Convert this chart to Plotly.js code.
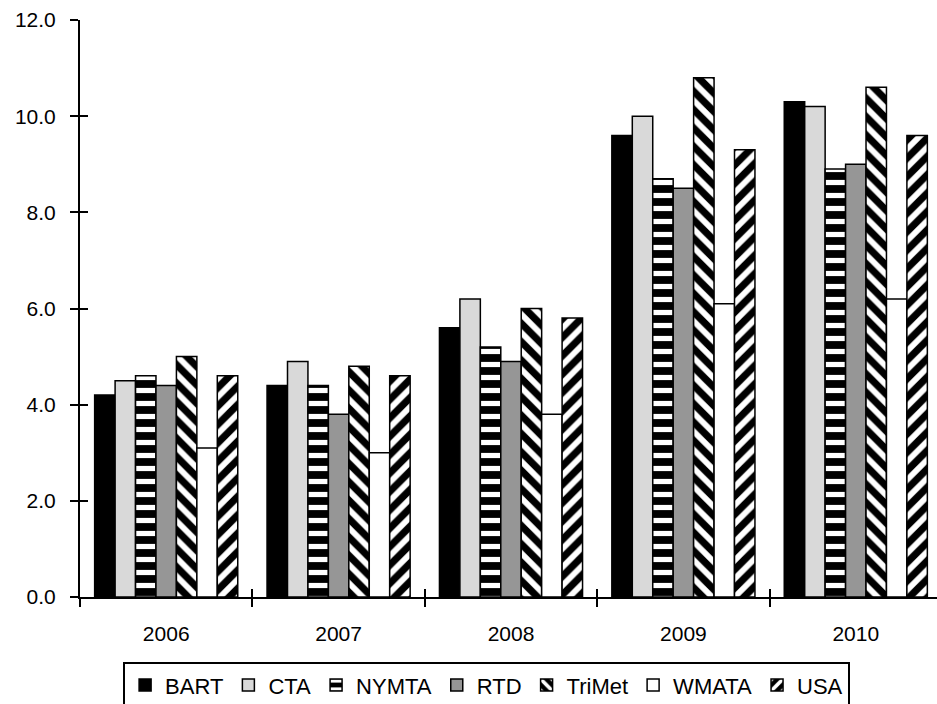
<!DOCTYPE html>
<html>
<head>
<meta charset="utf-8">
<script src="https://cdn.plot.ly/plotly-3.0.1.min.js"></script>
<style>
html, body { margin: 0; padding: 0; overflow: hidden; background: #fff; }
#chart { width: 942px; height: 712px; }
</style>
</head>
<body>
<div id="chart"></div>
<script>
const years = ['2006', '2007', '2008', '2009', '2010'];
const BART   = [4.2, 4.4, 5.6, 9.6, 10.3];
const CTA    = [4.5, 4.9, 6.2, 10.0, 10.2];
const NYMTA  = [4.6, 4.4, 5.2, 8.7, 8.9];
const RTD    = [4.4, 3.8, 4.9, 8.5, 9.0];
const TriMet = [5.0, 4.8, 6.0, 10.8, 10.6];
const WMATA  = [3.1, 3.0, 3.8, 6.1, 6.2];
const USA    = [4.6, 4.6, 5.8, 9.3, 9.6];

const font = '"Liberation Sans", Arial, sans-serif';

function bar(name, y, color, pattern) {
  const m = { color: color, line: { color: '#000', width: 1.5 } };
  if (pattern) m.pattern = pattern;
  return { type: 'bar', name: name, x: years, y: y, marker: m };
}

const traces = [
  bar('BART', BART, '#000000'),
  bar('CTA', CTA, '#d9d9d9'),
  bar('NYMTA', NYMTA, '#000000', { shape: '-', bgcolor: '#000', fgcolor: '#fff', size: 13, solidity: 0.4 }),
  bar('RTD', RTD, '#969696'),
  bar('TriMet', TriMet, '#000000', { shape: '\\', bgcolor: '#000', fgcolor: '#fff', size: 13, solidity: 0.45 }),
  bar('WMATA', WMATA, '#ffffff'),
  bar('USA', USA, '#000000', { shape: '/', bgcolor: '#000', fgcolor: '#fff', size: 13, solidity: 0.45 }),
  // invisible helper so the overlay axes (inner half of the crossing ticks) are drawn
  { type: 'bar', x: years, y: BART, xaxis: 'x2', yaxis: 'y2', showlegend: false,
    hoverinfo: 'skip', marker: { color: 'rgba(0,0,0,0)', line: { width: 0 } } }
];

const layout = {
  width: 942, height: 712,
  margin: { l: 80, r: 0, t: 20, b: 115 },
  paper_bgcolor: '#fff', plot_bgcolor: '#fff',
  barmode: 'group', bargap: 0.17, bargroupgap: 0,
  showlegend: true,
  xaxis: {
    type: 'category', showline: true, linecolor: '#000', linewidth: 2,
    ticks: 'outside', tickson: 'boundaries', ticklen: 8, tickwidth: 2, tickcolor: '#000',
    showgrid: false, zeroline: false,
    ticklabelstandoff: 17,
    tickfont: { family: font, size: 21, color: '#000' }
  },
  yaxis: {
    range: [0, 12], dtick: 2, tick0: 0, tickformat: '.1f',
    showline: true, linecolor: '#000', linewidth: 2,
    ticks: 'outside', ticklen: 8, tickwidth: 2, tickcolor: '#000',
    showgrid: false, zeroline: false,
    ticklabelstandoff: 10,
    tickfont: { family: font, size: 21, color: '#000' }
  },
  xaxis2: {
    type: 'category', overlaying: 'x', anchor: 'y2', side: 'bottom',
    tickson: 'boundaries', ticks: 'inside', ticklen: 8, tickwidth: 2, tickcolor: '#000',
    showticklabels: false, showgrid: false, zeroline: false, showline: false
  },
  yaxis2: {
    overlaying: 'y', anchor: 'x2', side: 'left', range: [0, 12], dtick: 2,
    ticks: 'inside', ticklen: 8, tickwidth: 2, tickcolor: '#000',
    showticklabels: false, showgrid: false, zeroline: false, showline: false
  },
  legend: {
    orientation: 'h', x: 0.05, xanchor: 'left', y: -0.113, yanchor: 'top',
    bordercolor: '#000', borderwidth: 2, bgcolor: '#fff',
    font: { family: font, size: 22, color: '#000' },
    traceorder: 'normal'
  }
};

Plotly.newPlot('chart', traces, layout, { staticPlot: true, displayModeBar: false });
</script>
</body>
</html>
